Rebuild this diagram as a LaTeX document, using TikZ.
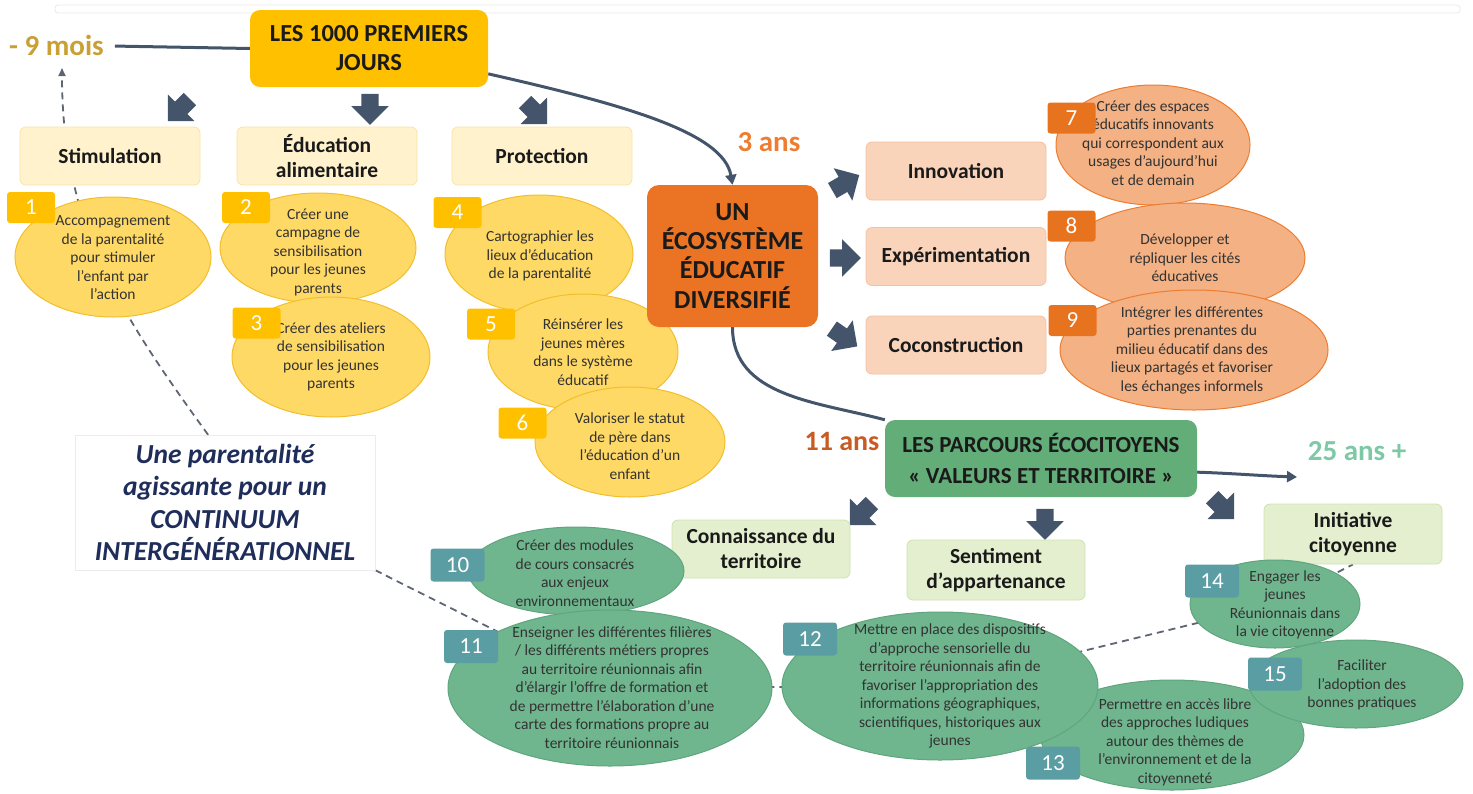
\documentclass[tikz,border=0pt]{standalone}
\usepackage{fontspec}
\setmainfont{Carlito}
\usepackage{tikz}
\usetikzlibrary{shapes.geometric, shapes.arrows, arrows.meta, backgrounds}
\definecolor{navyLine}{HTML}{44546A}
\definecolor{gold}{HTML}{FFC000}
\definecolor{goldText}{HTML}{C9A033}
\definecolor{subYellow}{HTML}{FFF2CC}
\definecolor{subYellowLine}{HTML}{F8E3A6}
\definecolor{ellYellow}{HTML}{FFD966}
\definecolor{ellYellowLine}{HTML}{F2BE2C}
\definecolor{ecoOrange}{HTML}{EA7424}
\definecolor{orangeText}{HTML}{ED7D31}
\definecolor{subOrange}{HTML}{F9D3BA}
\definecolor{subOrangeLine}{HTML}{F4C2A2}
\definecolor{ellOrange}{HTML}{F4B183}
\definecolor{ellOrangeLine}{HTML}{ED7D31}
\definecolor{tagOrange}{HTML}{E8731F}
\definecolor{parcGreen}{HTML}{62AD78}
\definecolor{subGreen}{HTML}{E3EFCE}
\definecolor{subGreenLine}{HTML}{CFE3AE}
\definecolor{ellGreen}{HTML}{6FB68E}
\definecolor{ellGreenLine}{HTML}{5FA57E}
\definecolor{tagTeal}{HTML}{5A9DA3}
\definecolor{elevenText}{HTML}{C85B23}
\definecolor{lateGreen}{HTML}{7DC8A5}
\definecolor{parentNavy}{HTML}{1F2D5A}
\definecolor{dashGray}{HTML}{5F6573}
\definecolor{ink}{HTML}{1A1A1A}
\definecolor{inkSoft}{HTML}{333333}

\begin{document}
\begin{tikzpicture}[
    x=1pt, y=1pt,
    box/.style={rectangle, draw, rounded corners=6pt, minimum width=180pt, minimum height=58pt, align=center, font=\fontsize{21.5}{25}\selectfont\bfseries, text=ink, line width=0.8pt},
    ybox/.style={box, fill=subYellow, draw=subYellowLine},
    obox/.style={box, fill=subOrange, draw=subOrangeLine},
    gbox/.style={box, fill=subGreen, draw=subGreenLine},
    ell/.style={ellipse, inner sep=0pt, line width=1pt},
    yell/.style={ell, fill=ellYellow, draw=ellYellowLine},
    oell/.style={ell, fill=ellOrange, draw=ellOrangeLine},
    gell/.style={ell, fill=ellGreen, draw=ellGreenLine},
    etxt/.style={align=center, inner sep=0pt, font=\fontsize{15.5}{18.5}\selectfont, text=inkSoft},
    tag/.style={rectangle, rounded corners=3pt, minimum width=48pt, minimum height=31pt, inner sep=0pt, text=white, font=\fontsize{23}{23}\selectfont},
    ytag/.style={tag, fill=gold},
    otag/.style={tag, fill=tagOrange},
    gtag/.style={tag, fill=tagTeal, minimum width=54pt, minimum height=33pt},
    fatarr/.style={single arrow, fill=navyLine, inner xsep=0pt, inner ysep=8.5pt, minimum height=31pt, minimum width=37pt, single arrow head extend=10pt},
    age/.style={font=\fontsize{29}{29}\selectfont\bfseries, inner sep=1pt},
    flow/.style={draw=navyLine, line width=3pt},
    dashline/.style={draw=dashGray, line width=1.8pt, dash pattern=on 7pt off 5pt},
]
    \useasboundingbox (0,0) rectangle (1473,-793);
    \draw[gray!18, line width=0.8pt, rounded corners=3pt] (55,-5) rectangle (1460,-13);

    % first period
    \node[rectangle, rounded corners=10pt, fill=gold, minimum width=238pt, minimum height=77pt, align=center, font=\fontsize{24.5}{29}\selectfont\bfseries, text=ink] (title) at (369,-48.5) {LES 1000 PREMIERS\\JOURS};
    \node[age, text=goldText, anchor=west] (m9) at (8,-45) {- 9 mois};
    \node[fatarr, rotate=225] (a1) at (182,-107) {};
    \node[fatarr, rotate=-90] (a2) at (370,-105) {};
    \node[fatarr, rotate=-45] (a3) at (533,-110) {};
    \node[ybox] (stim) at (110,-156) {Stimulation};
    \node[ybox] (edu) at (327,-156) {Éducation\\alimentaire};
    \node[ybox] (prot) at (542,-156) {Protection};

    \node[yell, minimum width=196pt, minimum height=120pt] (e1) at (113,-257) {};
    \node[etxt] (x1) at (113,-258) {Accompagnement\\de la parentalité\\pour stimuler\\l’enfant par\\l’action};
    \node[ytag] (t1) at (31,-207.5) {1};
    \node[yell, minimum width=196pt, minimum height=110pt] (e2) at (318,-248) {};
    \node[etxt] (x2) at (318,-252) {Créer une\\campagne de\\sensibilisation\\pour les jeunes\\parents};
    \node[ytag] (t2) at (246,-207.5) {2};
    \node[yell, minimum width=198pt, minimum height=120pt] (e3) at (331,-357) {};
    \node[etxt] (x3) at (331,-357) {Créer des ateliers\\de sensibilisation\\pour les jeunes\\parents};
    \node[ytag] (t3) at (256.5,-323) {3};
    \node[yell, minimum width=188pt, minimum height=118pt] (e4) at (539,-254) {};
    \node[etxt] (x4) at (540,-256) {Cartographier les\\lieux d’éducation\\de la parentalité};
    \node[ytag] (t4) at (457.5,-212.5) {4};
    \node[yell, minimum width=190pt, minimum height=116pt] (e5) at (583,-352) {};
    \node[etxt] (x5) at (583,-352) {Réinsérer les\\jeunes mères\\dans le système\\éducatif};
    \node[ytag] (t5) at (491,-324) {5};
    \node[yell, minimum width=190pt, minimum height=110pt] (e6) at (630,-442) {};
    \node[etxt] (x6) at (630,-446) {Valoriser le statut\\de père dans\\l’éducation d’un\\enfant};
    \node[ytag] (t6) at (522.5,-423) {6};

    % second period
    \node[rectangle, rounded corners=12pt, fill=ecoOrange, minimum width=171pt, minimum height=142pt, align=center, font=\fontsize{26}{29.3}\selectfont\bfseries, text=ink] (eco) at (732.5,-256) {UN\\ÉCOSYSTÈME\\ÉDUCATIF\\DIVERSIFIÉ};
    \node[age, text=orangeText] (a3ans) at (769,-142) {3 ans};
    \node[fatarr, rotate=30] (a4) at (842,-185) {};
    \node[fatarr] (a5) at (841,-258) {};
    \node[fatarr, rotate=-35] (a6) at (841,-335) {};
    \node[obox] (inno) at (956,-171) {Innovation};
    \node[obox] (expe) at (956,-256.5) {Expérimentation};
    \node[obox] (cocon) at (956,-345) {Coconstruction};

    \node[oell, minimum width=194pt, minimum height=120pt] (e7) at (1153,-145) {};
    \node[etxt] (x7) at (1153,-143) {Créer des espaces\\éducatifs innovants\\qui correspondent aux\\usages d’aujourd’hui\\et de demain};
    \node[otag] (t7) at (1071.5,-118) {7};
    \node[oell, minimum width=240pt, minimum height=110pt] (e8) at (1185,-258) {};
    \node[etxt] (x8) at (1185,-258) {Développer et\\répliquer les cités\\éducatives};
    \node[otag] (t8) at (1071.5,-226) {8};
    \node[oell, minimum width=268pt, minimum height=120pt] (e9) at (1194,-350) {};
    \node[etxt] (x9) at (1192,-350) {Intégrer les différentes\\parties prenantes du\\milieu éducatif dans des\\lieux partagés et favoriser\\les échanges informels};
    \node[otag] (t9) at (1072.5,-320.5) {9};

    % third period
    \node[rectangle, rounded corners=10pt, fill=parcGreen, minimum width=312pt, minimum height=77pt, align=center, font=\fontsize{23}{31}\selectfont\bfseries, text=ink] (parc) at (1041,-458.5) {LES PARCOURS ÉCOCITOYENS\\« VALEURS ET TERRITOIRE »};
    \node[age, text=elevenText, font=\fontsize{28}{28}\selectfont\bfseries] (a11) at (842,-442) {11 ans};
    \node[age, text=lateGreen] (a25) at (1357,-451) {25 ans +};
    \coordinate (c25) at (1297,-477);
    \node[fatarr, rotate=225] (a7) at (864,-511) {};
    \node[fatarr, rotate=-90] (a8) at (1045,-520) {};
    \node[fatarr, rotate=-45] (a9) at (1220,-505) {};
    \node[gbox, minimum width=178pt] (conn) at (761,-549) {Connaissance du\\territoire};
    \node[gbox, minimum width=178pt, minimum height=60pt] (sent) at (996,-570) {Sentiment\\d’appartenance};
    \node[gbox, minimum width=178pt, minimum height=60pt] (init) at (1353,-534) {Initiative\\citoyenne};

    \node[gell, minimum width=216pt, minimum height=88pt] (e10) at (576,-571) {};
    \node[etxt] (x10) at (575,-573) {Créer des modules\\de cours consacrés\\aux enjeux\\environnementaux};
    \node[gtag] (t10) at (457.5,-565) {10};
    \node[gell, minimum width=324pt, minimum height=156pt] (e11) at (610,-688) {};
    \node[etxt] (x11) at (612,-687.5) {Enseigner les différentes filières\\/ les différents métiers propres\\au territoire réunionnais afin\\d’élargir l’offre de formation et\\de permettre l’élaboration d’une\\carte des formations propre au\\territoire réunionnais};
    \node[gtag] (t11) at (471,-646.5) {11};
    \node[gell, minimum width=264pt, minimum height=110pt] (e13) at (1172,-735) {};
    \node[etxt] (x13) at (1175,-742) {Permettre en accès libre\\des approches ludiques\\autour des thèmes de\\l’environnement et de la\\citoyenneté};
    \node[gtag] (t13) at (1053,-763) {13};
    \node[gell, minimum width=316pt, minimum height=148pt] (e12) at (940,-686) {};
    \node[etxt] (x12) at (950,-686) {Mettre en place des dispositifs\\d’approche sensorielle du\\territoire réunionnais afin de\\favoriser l’appropriation des\\informations géographiques,\\scientifiques, historiques aux\\jeunes};
    \node[gtag] (t12) at (810,-639) {12};
    \node[gell, minimum width=170pt, minimum height=88pt] (e14) at (1275,-604) {};
    \node[etxt] (x14) at (1285,-605) {Engager les\\jeunes\\Réunionnais dans\\la vie citoyenne};
    \node[gtag] (t14) at (1212,-581) {14};
    \node[gell, minimum width=214pt, minimum height=88pt] (e15) at (1356,-684) {};
    \node[etxt] (x15) at (1362,-685) {Faciliter\\l’adoption des\\bonnes pratiques};
    \node[gtag] (t15) at (1275,-674) {15};

    % continuum
    \node[rectangle, draw=gray!15, fill=white, minimum width=300pt, minimum height=135pt, align=center, font=\fontsize{27.5}{32.5}\selectfont\bfseries\itshape, text=parentNavy] (parent) at (225,-502.5) {Une parentalité\\agissante pour un\\CONTINUUM\\INTERGÉNÉRATIONNEL};
    \coordinate (m9up) at (62,-68);

    \begin{scope}[on background layer]
        \draw[flow, shorten <=10pt] (m9) -- (title.west);
        \draw[flow, -{Triangle[length=10pt, width=11pt]}] (title.-12) .. controls +(132,-30) and +(-9,53) .. (eco.north);
        \draw[flow] (eco.south) to[out=-90, in=165] (parc.north west);
        \draw[flow, -{Triangle[length=10pt, width=11pt]}] (parc.-5) to[out=-2, in=178] (c25);
        \draw[dashline, -{Triangle[length=8pt, width=7pt]}] (parent.104) to[out=126, in=-90] (m9up);
        \draw[dashline] (parent.south east) -- (e11.center) -- (e12.center) -- (e14.center) -- (init.south);
    \end{scope}
\end{tikzpicture}
\end{document}
